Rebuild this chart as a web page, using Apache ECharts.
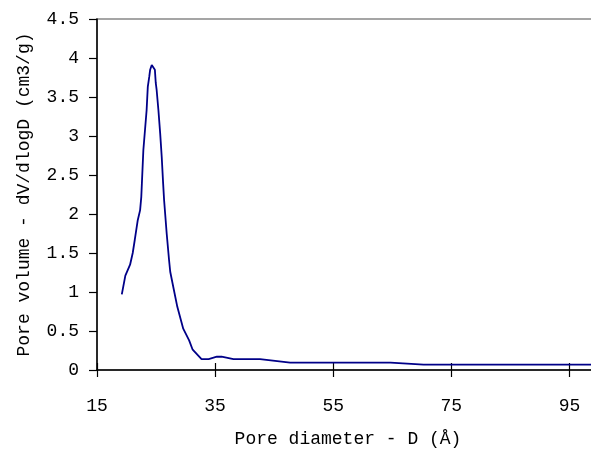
<!DOCTYPE html>
<html><head><meta charset="utf-8">
<script src="https://cdn.jsdelivr.net/npm/echarts@6/dist/echarts.min.js"></script>
<style>html,body{margin:0;padding:0;background:#fff}#c{width:591px;height:451px}</style>
</head><body><div id="c"></div>
<script>
const diameter = [19.2, 19.8, 20.6, 21.05, 21.4, 21.9, 22.3, 22.5, 22.85, 23.4, 23.6, 23.85, 24.0, 24.27, 24.55, 24.8, 24.95, 25.1, 25.4, 25.7, 25.96, 26.2, 26.36, 26.8, 27.2, 27.4, 27.9, 28.6, 29.6, 30.6, 31.2, 32.7, 33.9, 35.3, 36.1, 38.1, 42.6, 47.7, 64.7, 70.3, 100];
const poreVolume = [0.97, 1.21, 1.35, 1.50, 1.67, 1.92, 2.05, 2.22, 2.82, 3.33, 3.63, 3.76, 3.85, 3.91, 3.91, 3.85, 3.68, 3.59, 3.33, 3.03, 2.73, 2.39, 2.18, 1.75, 1.41, 1.26, 1.07, 0.81, 0.53, 0.38, 0.26, 0.14, 0.14, 0.17, 0.17, 0.14, 0.14, 0.094, 0.094, 0.068, 0.068];
const xName = 'Pore diameter - D (Å)';
const yName = 'Pore volume - dV/dlogD (cm3/g)';

const font = 'Liberation Mono';
const chart = echarts.init(document.getElementById('c'));
const axisText = {color: '#000', fontFamily: font, fontSize: 18};
chart.setOption({
  animation: false,
  grid: {left: 97, top: 19, right: -8, bottom: 81, show: true, borderColor: '#888', borderWidth: 1.5,
         outerBoundsMode: 'none', containLabel: false},
  xAxis: [{
    type: 'value', min: 15, max: 100, interval: 20,
    axisLine: {lineStyle: {color: '#000', width: 1.5}},
    axisTick: {length: 7, lineStyle: {color: '#000', width: 1.2}},
    splitLine: {show: false},
    axisLabel: Object.assign({margin: 27, showMaxLabel: false}, axisText),
    name: xName, nameLocation: 'middle', nameGap: 60,
    nameTextStyle: axisText
  }, {
    type: 'value', min: 15, max: 100, interval: 20, position: 'bottom',
    axisLine: {show: false},
    axisTick: {inside: true, length: 7, lineStyle: {color: '#000', width: 1.2}},
    axisLabel: {show: false}, splitLine: {show: false}
  }],
  yAxis: {
    type: 'value', min: 0, max: 4.5, interval: 0.5,
    axisLine: {show: true, lineStyle: {color: '#000', width: 1.5}},
    axisTick: {show: true, length: 8, lineStyle: {color: '#000', width: 1.2}},
    splitLine: {show: false},
    axisLabel: Object.assign({margin: 18}, axisText),
    name: yName, nameLocation: 'middle', nameGap: 64,
    nameTextStyle: axisText
  },
  series: [{
    type: 'line', xAxisIndex: 0,
    data: diameter.map((d, i) => [d, poreVolume[i]]),
    showSymbol: false, smooth: false,
    lineStyle: {color: '#000088', width: 1.8}
  }]
});
</script></body></html>
